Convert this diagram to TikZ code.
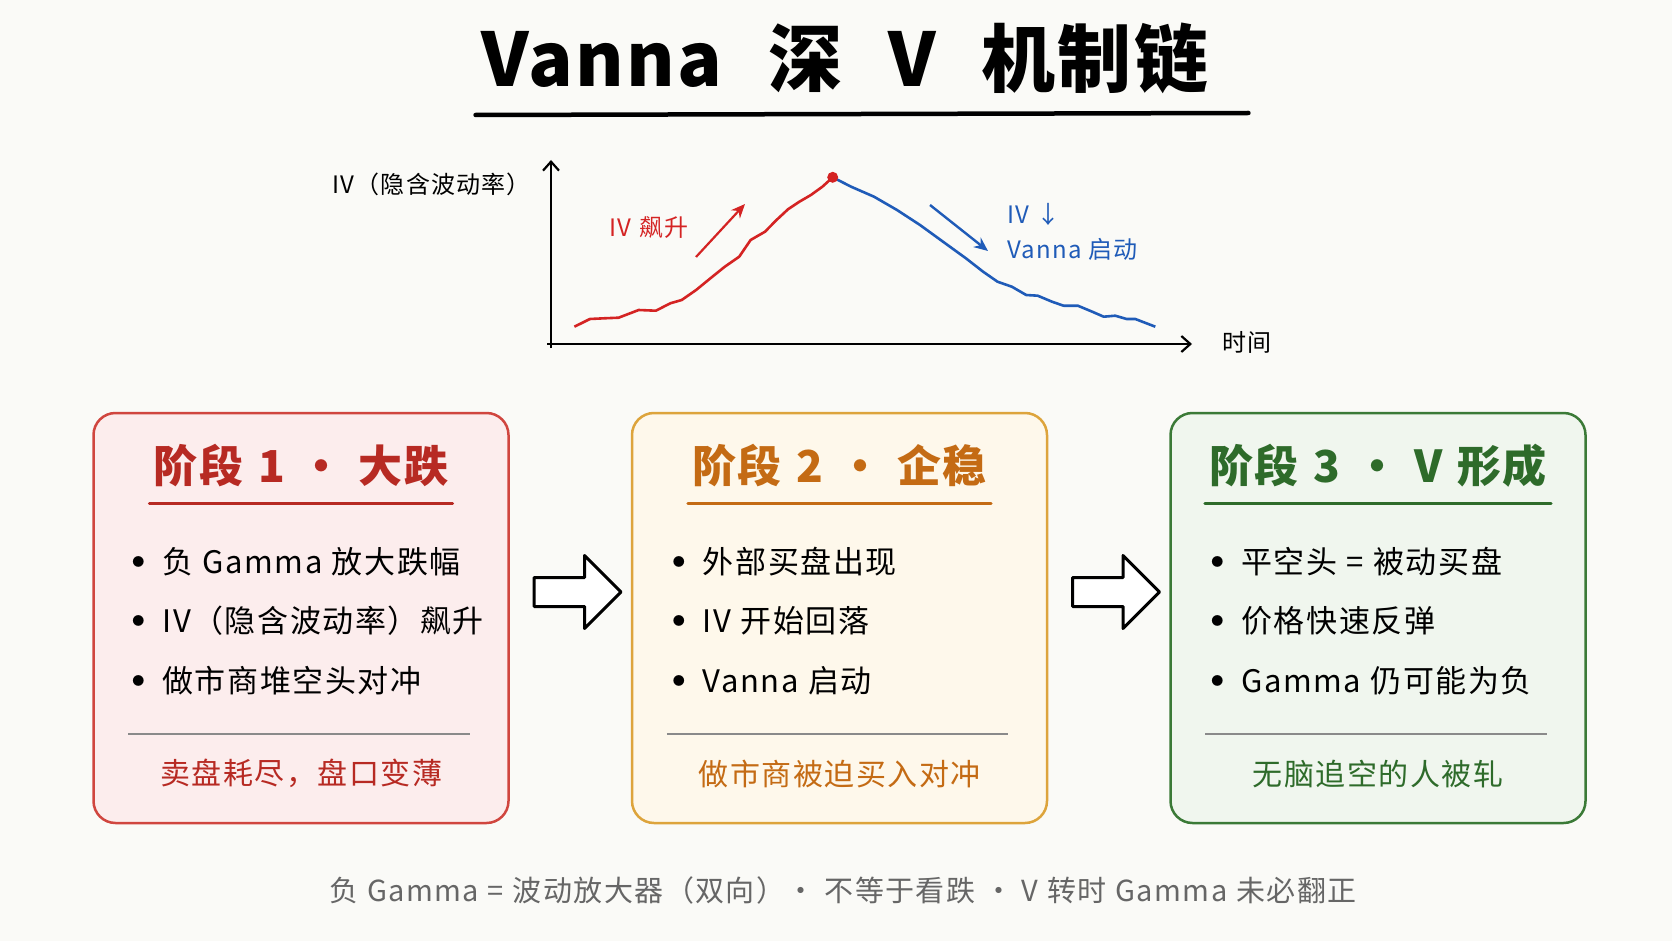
\documentclass[tikz,border=0pt]{standalone}
\usepackage{fontspec}
\setmainfont{Noto Sans CJK SC}[WordSpace=1.1, LetterSpace=5]
\newfontfamily\stagefont{Noto Sans CJK SC}[WordSpace=1.25, LetterSpace=4]
\newfontfamily\headfont{Noto Sans CJK SC}[WordSpace=2.4, LetterSpace=3]
\usepackage{xcolor}
\usepackage{tikz}
\usetikzlibrary{arrows.meta, positioning, calc, shapes.arrows}
\definecolor{paper}{HTML}{FAFAF7}
\definecolor{dropred}{HTML}{B72A23}
\definecolor{dropline}{HTML}{D0463F}
\definecolor{dropfill}{HTML}{FCEDED}
\definecolor{holdorange}{HTML}{C46B14}
\definecolor{holdline}{HTML}{DDA43C}
\definecolor{holdfill}{HTML}{FEF8EB}
\definecolor{vgreen}{HTML}{2E6B2A}
\definecolor{vline}{HTML}{3B7A37}
\definecolor{vfill}{HTML}{F0F6EE}
\definecolor{ivred}{HTML}{D42323}
\definecolor{ivblue}{HTML}{1F5BB8}
\definecolor{notegrey}{HTML}{666666}
\definecolor{rulegrey}{HTML}{8A8A8A}
\newcommand{\dotmark}{\raisebox{7pt}{\fontsize{12}{12}\selectfont ●}\hspace{18pt}}
\tikzstyle{stagebox} = [rectangle, rounded corners=22pt, minimum width=415pt, minimum height=410pt, line width=2.5pt]
\tikzstyle{stagetitle} = [inner sep=0pt, font=\stagefont\fontsize{44}{50}\selectfont\bfseries]
\tikzstyle{bulletitem} = [inner sep=0pt, anchor=west, font=\fontsize{31}{36}\selectfont, text=black]
\tikzstyle{footer} = [inner sep=0pt, font=\fontsize{30}{36}\selectfont]
\tikzstyle{chartlabel} = [inner sep=0pt, font=\fontsize{24}{28}\selectfont]
\tikzstyle{axis} = [line width=2.2pt, -{Straight Barb[length=9pt, width=16pt]}]
\tikzstyle{flowarrow} = [single arrow, draw=black, fill=white, line width=3pt, line join=round,
  minimum height=87pt, inner xsep=0pt, inner ysep=13pt, single arrow head extend=22pt]
\begin{document}
\begin{tikzpicture}[x=1pt, y=-1pt]
  \useasboundingbox[fill=paper] (0,0) rectangle (1672,941);

  % Title
  \node (title) [inner sep=0pt, font=\headfont\fontsize{74}{80}\selectfont\bfseries] at (845,58) {Vanna 深 V 机制链};
  \draw[line width=4.5pt, line cap=round] ($(title.west)+(-6,57)$) -- ($(title.east)+(40,55)$);

  % Chart
  \coordinate (origin) at (551,344);
  \draw[axis] (551,348) -- (551,160);
  \draw[axis] (547,344) -- (1192,344);
  \node (ylab) [chartlabel, anchor=east] at (531,184) {IV（隐含波动率）};
  \node (xlab) [chartlabel, anchor=west] at (1222,342) {时间};
  \coordinate (peak) at (832.7,177.3);
  \draw[ivred, line width=2.6pt, line join=round] plot coordinates {(574.4,326.7) (589.9,319) (604.2,318.3)
    (618.6,317.7) (638.7,310) (655.9,310.7) (670.3,303.3) (681.7,300) (696.1,290) (710.4,278.3)
    (724.8,266.7) (739.2,256.7) (750.6,240) (765,231.7) (776.5,220) (788,209.3) (799.4,201.7)
    (810.9,195) (822.4,186.7) (832.7,177.3)};
  \draw[ivblue, line width=2.6pt, line join=round] plot coordinates {(832.7,177.3) (851.1,186.7)
    (874,196.7) (897,210) (920,225) (943,241.7) (965.9,258.3) (983.1,271.7) (997.5,281.7)
    (1011.8,286.7) (1026.2,295) (1037.7,295.7) (1052,301.7) (1063.5,305.7) (1077.8,305.7)
    (1092.2,311.7) (1103.7,316.7) (1115.2,315.7) (1126.6,319) (1135.3,319) (1155.3,326.7)};
  \fill[ivred] (peak) circle (5.5pt);
  \coordinate (up0) at (696,257);
  \coordinate (up1) at (745,204);
  \draw[ivred, line width=2.2pt, -{Stealth[length=14pt, width=12pt]}] (up0) -- (up1);
  \node (uplab) [chartlabel, text=ivred] at (649,228) {IV 飙升};
  \coordinate (dn0) at (930,205);
  \coordinate (dn1) at (988,251);
  \draw[ivblue, line width=2.4pt, -{Stealth[length=14pt, width=12pt]}] (dn0) -- (dn1);
  \node (dnlab1) [chartlabel, text=ivblue, anchor=west] at (1007,214) {IV ↓};
  \node (dnlab2) [chartlabel, text=ivblue, anchor=west] at (1007,249) {Vanna 启动};

  % Stage boxes
  \node (s1) [stagebox, draw=dropline, fill=dropfill] at (301,618) {};
  \node (s2) [stagebox, draw=holdline, fill=holdfill, right=121pt of s1] {};
  \node (s3) [stagebox, draw=vline, fill=vfill, right=121pt of s2] {};

  % Stage 1
  \node (t1) [stagetitle, text=dropred] at ($(s1.north)+(0,54)$) {阶段 1 · 大跌};
  \draw[dropred, line width=3pt, line cap=round] ($(t1.west)+(-4,38)$) -- ($(t1.east)+(4,38)$);
  \node (b11) [bulletitem] at ($(s1.north west)+(40,150)$) {\dotmark 负 Gamma 放大跌幅};
  \node (b12) [bulletitem] at ($(s1.north west)+(40,209)$) {\dotmark IV（隐含波动率）飙升};
  \node (b13) [bulletitem] at ($(s1.north west)+(40,269)$) {\dotmark 做市商堆空头对冲};
  \draw[rulegrey, line width=1.5pt] ($(s1.north west)+(36,322)$) -- ($(s1.north east)+(-40,322)$);
  \node (f1) [footer, text=dropred] at ($(s1.north)+(0,362)$) {卖盘耗尽，盘口变薄};

  % Stage 2
  \node (t2) [stagetitle, text=holdorange] at ($(s2.north)+(0,54)$) {阶段 2 · 企稳};
  \draw[holdorange, line width=3pt, line cap=round] ($(t2.west)+(-4,38)$) -- ($(t2.east)+(4,38)$);
  \node (b21) [bulletitem] at ($(s2.north west)+(42,150)$) {\dotmark 外部买盘出现};
  \node (b22) [bulletitem] at ($(s2.north west)+(42,209)$) {\dotmark IV 开始回落};
  \node (b23) [bulletitem] at ($(s2.north west)+(42,269)$) {\dotmark Vanna 启动};
  \draw[rulegrey, line width=1.5pt] ($(s2.north west)+(36,322)$) -- ($(s2.north east)+(-40,322)$);
  \node (f2) [footer, text=holdorange] at ($(s2.north)+(0,362)$) {做市商被迫买入对冲};

  % Stage 3
  \node (t3) [stagetitle, text=vgreen] at ($(s3.north)+(0,54)$) {阶段 3 · V 形成};
  \draw[vgreen, line width=3pt, line cap=round] ($(t3.west)+(-4,38)$) -- ($(t3.east)+(4,38)$);
  \node (b31) [bulletitem] at ($(s3.north west)+(42,150)$) {\dotmark 平空头 = 被动买盘};
  \node (b32) [bulletitem] at ($(s3.north west)+(42,209)$) {\dotmark 价格快速反弹};
  \node (b33) [bulletitem] at ($(s3.north west)+(42,269)$) {\dotmark Gamma 仍可能为负};
  \draw[rulegrey, line width=1.5pt] ($(s3.north west)+(36,322)$) -- ($(s3.north east)+(-40,322)$);
  \node (f3) [footer, text=vgreen] at ($(s3.north)+(0,362)$) {无脑追空的人被轧};

  % Arrows between stages
  \node (a12) [flowarrow] at ($(s1.east)!0.5!(s2.west)+(0,-26)$) {};
  \node (a23) [flowarrow] at ($(s2.east)!0.5!(s3.west)+(0,-26)$) {};

  % Note
  \node (note) [inner sep=0pt, text=notegrey, font=\fontsize{29}{32}\selectfont] at (843,890)
    {负 Gamma = 波动放大器（双向）· 不等于看跌 · V 转时 Gamma 未必翻正};
\end{tikzpicture}
\end{document}
